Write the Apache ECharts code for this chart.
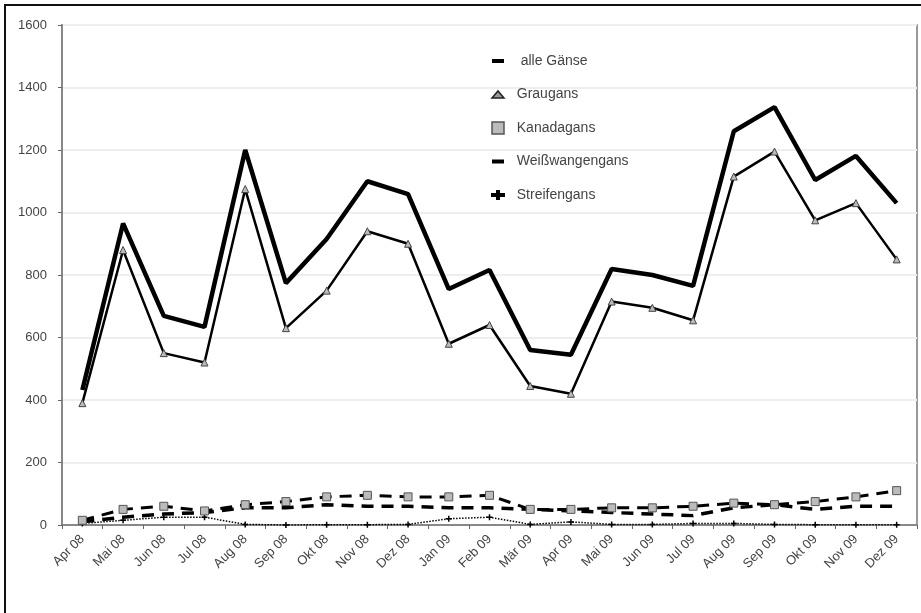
<!DOCTYPE html>
<html><head><meta charset="utf-8">
<script src="https://cdn.jsdelivr.net/npm/echarts@6/dist/echarts.min.js"></script>
<style>html,body{margin:0;padding:0;background:#fff}#c{width:921px;height:613px}</style>
</head><body><div id="c"></div>
<script>
const categories = ["Apr 08","Mai 08","Jun 08","Jul 08","Aug 08","Sep 08","Okt 08","Nov 08","Dez 08","Jan 09","Feb 09","Mär 09","Apr 09","Mai 09","Jun 09","Jul 09","Aug 09","Sep 09","Okt 09","Nov 09","Dez 09"];
const alleGaense = [432,965,669,634,1200,774,915,1100,1059,755,816,560,545,819,800,765,1260,1337,1104,1181,1030];
const graugans = [390,880,550,520,1075,630,750,940,900,580,640,445,420,715,695,655,1115,1195,975,1030,850];
const kanadagans = [15,50,60,45,65,75,90,95,90,90,95,50,50,55,55,60,70,65,75,90,110];
const weisswangengans = [10,25,35,40,55,55,65,60,60,55,55,50,45,40,35,30,55,65,50,60,60];
const streifengans = [5,15,25,25,2,0,1,1,2,20,25,2,10,2,2,5,5,2,1,1,1];
const yTicks = {min:0, max:1600, interval:200};
const legendNames = [" alle Gänse","Graugans","Kanadagans","Weißwangengans","Streifengans"];

const font = "'Liberation Sans',Arial,sans-serif";
const chart = echarts.init(document.getElementById('c'), null, {renderer:'canvas'});
chart.setOption({
  animation:false,
  textStyle:{fontFamily:font},
  graphic:[{type:'rect', shape:{x:5,y:5,width:1000,height:1000}, style:{fill:'none', stroke:'#111', lineWidth:2}, z:100}],
  grid:{left:62, right:4, top:25, bottom:88, show:true, borderColor:'#999', borderWidth:2, backgroundColor:'transparent'},
  legend:{
    orient:'vertical', left:486, top:49, itemGap:19.5, itemWidth:12, itemHeight:14,
    formatter: n => '  ' + n,
    textStyle:{fontSize:14, color:'#444', fontFamily:font},
    data:[
      {name:legendNames[0], icon:'path://M0,5 L12,5 L12,9 L0,9 Z', itemStyle:{color:'#000'}},
      {name:legendNames[1], icon:'path://M1,11 L6,5 L11,11 Z', itemStyle:{color:'#999', borderColor:'#222', borderWidth:1.5}},
      {name:legendNames[2], icon:'path://M2,3 L10,3 L10,11 L2,11 Z', itemStyle:{color:'#bbb', borderColor:'#555', borderWidth:1.5}},
      {name:legendNames[3], icon:'path://M0,5 L12,5 L12,9 L0,9 Z', itemStyle:{color:'#000'}},
      {name:legendNames[4], icon:'path://M0,6 L12,6 L12,8 L0,8 Z M5,3 L7,3 L7,11 L5,11 Z', itemStyle:{color:'#000'}}
    ]
  },
  xAxis:{
    type:'category', data:categories, boundaryGap:true,
    axisLine:{lineStyle:{color:'#888', width:2}},
    axisTick:{show:true, lineStyle:{color:'#666'}, length:4},
    axisLabel:{rotate:45, fontSize:13, color:'#444', margin:12, interval:0}
  },
  yAxis:{
    type:'value', min:yTicks.min, max:yTicks.max, interval:yTicks.interval,
    axisLine:{show:true, lineStyle:{color:'#888', width:2}},
    axisTick:{show:true, length:4, lineStyle:{color:'#666'}},
    axisLabel:{fontSize:13, color:'#444', margin:15, formatter: v => String(v)},
    splitLine:{lineStyle:{color:'#eee', width:2}}
  },
  series:[
    {name:legendNames[0], type:'line', data:alleGaense, symbol:'none', lineStyle:{color:'#000', width:4.5}, itemStyle:{color:'#000'}, z:5},
    {name:legendNames[1], type:'line', data:graugans, symbol:'triangle', symbolSize:7, lineStyle:{color:'#000', width:2.5}, itemStyle:{color:'#bbb', borderColor:'#444', borderWidth:1}, z:4},
    {name:legendNames[2], type:'line', data:kanadagans, symbol:'rect', symbolSize:8, lineStyle:{color:'#000', width:3, type:[12,8]}, itemStyle:{color:'#bbb', borderColor:'#555', borderWidth:1}, z:3},
    {name:legendNames[3], type:'line', data:weisswangengans, symbol:'none', lineStyle:{color:'#000', width:3.5, type:[12,8]}, itemStyle:{color:'#000'}, z:3},
    {name:legendNames[4], type:'line', data:streifengans, symbol:'path://M0,4 L8,4 M4,0 L4,8', symbolSize:6, lineStyle:{color:'#000', width:1.5, type:'dotted'}, itemStyle:{color:'#000', borderColor:'#000', borderWidth:1.5}, z:2}
  ]
});
</script></body></html>
